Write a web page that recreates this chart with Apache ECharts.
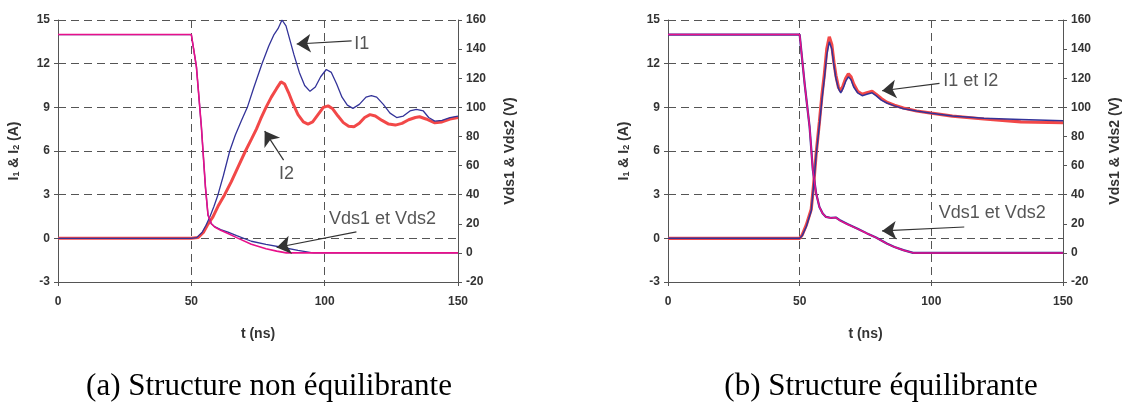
<!DOCTYPE html>
<html>
<head>
<meta charset="utf-8">
<script src="https://cdn.jsdelivr.net/npm/echarts@6/dist/echarts.min.js"></script>
<style>html,body{margin:0;padding:0;background:#fff}#c{width:1123px;height:412px}</style>
</head>
<body>
<div id="c"></div>
<script>
// ---- Data (t in ns, currents in A, voltages in V) ----
var xTicks = [0, 50, 100, 150];
var iTicks = [-3, 0, 3, 6, 9, 12, 15];
var vTicks = [-20, 0, 20, 40, 60, 80, 100, 120, 140, 160];

// (a) Structure non équilibrante
var a_I1 = [[0,0],[50,0],[52,0.05],[54,0.4],[55.5,0.9],[57,1.5],[58.5,2.2],[60,3.0],[62,4.3],[64.4,6.0],[66.5,7.1],[68.8,8.1],[71,9.0],[73.5,10.4],[76.5,12.0],[79,13.2],[81,14.0],[82.5,14.4],[84,15.0],[85.5,14.6],[87,13.6],[88.5,12.6],[90.5,11.4],[92.5,10.5],[94.5,10.1],[96.5,10.4],[98.5,11.1],[100.6,11.6],[102.5,11.4],[104.5,10.6],[106.5,9.7],[108.5,9.15],[110.6,8.93],[113,9.2],[115.5,9.7],[117.5,9.8],[119.5,9.7],[122,9.2],[124.5,8.6],[127,8.3],[129.5,8.4],[132,8.75],[134.4,8.86],[137,8.75],[139,8.3],[141.3,8.05],[144,8.1],[147,8.3],[150,8.4]];
var a_I2 = [[0,0],[50,0],[52.5,0.05],[54.5,0.4],[56,0.9],[58.1,1.47],[60,2.2],[62.5,3.0],[65,3.9],[67.5,4.9],[70.3,6.0],[72.5,6.8],[74.4,7.5],[76,8.2],[78,9.0],[80,9.7],[82,10.3],[83.6,10.75],[85,10.6],[86.5,10.0],[88,9.3],[90,8.5],[92,8.0],[93.75,7.85],[95.5,8.0],[97.5,8.5],[99.5,9.0],[101.3,9.1],[103,8.9],[105,8.4],[107,7.95],[109,7.7],[111,7.66],[113,7.9],[115,8.3],[117,8.5],[119,8.4],[121.5,8.1],[124,7.85],[126.5,7.78],[129,7.9],[131.5,8.15],[134,8.3],[135.6,8.35],[138,8.2],[141.3,7.94],[144,8.0],[147,8.2],[150,8.3]];
var a_Vds1 = [[0,150],[50,150],[51.9,128],[53.75,87],[55.3,45],[56.25,26],[57.5,20],[58.75,18],[61,16],[63.75,14.2],[67,11.8],[72.5,8],[78,5.8],[84.4,3.7],[90,1.8],[95,0.2],[96,0],[150,0]];
var a_Vds2 = [[0,150],[50,150],[51.9,128],[53.75,87],[55.3,45],[56.25,26],[57.5,20],[58.75,17.8],[61,15.5],[63.75,13.3],[67,10.5],[72.5,5.9],[78,2.8],[82,1.2],[85.6,0],[150,0]];

// (b) Structure équilibrante
var b_I1 = [[0,0],[50,0],[51,0.2],[52.5,0.8],[54.4,1.9],[55.4,3.8],[56.25,5.7],[57.5,7.8],[58.5,9.6],[59.4,11.0],[60.3,12.6],[61.25,13.5],[62.2,13.0],[63,11.9],[63.75,11.0],[64.7,10.3],[65.6,10.0],[66.5,10.3],[67.5,10.8],[68.5,11.1],[69.5,10.9],[70.5,10.4],[72,10.0],[73.75,9.8],[75.5,9.9],[77.5,10.0],[79,9.8],[81,9.5],[83.1,9.3],[86,9.1],[89.4,8.9],[94.4,8.75],[100,8.6],[108,8.4],[120,8.25],[134,8.17],[150,8.08]];
var b_I2 = [[0,0],[50,0],[51,0.25],[52.5,0.9],[54.4,2.0],[55.4,3.9],[56.25,5.8],[57.5,8.0],[58.5,9.9],[59.4,11.3],[60.3,13.0],[61.25,13.85],[62.2,13.3],[63,12.1],[63.75,11.2],[64.7,10.4],[65.6,10.1],[66.5,10.5],[67.5,11.0],[68.5,11.3],[69.5,11.1],[70.5,10.6],[72,10.1],[73.75,9.9],[75.5,10.0],[77.5,10.1],[79,9.9],[81,9.6],[83.1,9.35],[86,9.15],[89.4,8.95],[94.4,8.75],[100,8.6],[108,8.4],[120,8.2],[134,8.0],[150,7.94]];
var b_Vds1 = [[0,150],[50,150],[51.9,116],[53.75,87],[55,57],[56.25,41],[57.5,31.6],[58.75,27],[60,24.7],[62,24],[63.75,24.3],[65.5,22.2],[68.1,19.8],[72,16.6],[75.6,13.4],[79,10.6],[83.1,6.5],[86,4.1],[89.4,1.9],[93.1,0],[150,0]];
var b_Vds2 = [[0,150],[50,150],[51.9,116],[53.75,87],[55,57],[56.25,41],[57.5,31.6],[58.75,27],[60,24.7],[62,24],[63.75,24.3],[65.5,22],[68.1,19.7],[72,16.5],[75.6,13.3],[79,10.5],[83.1,6.4],[86,4],[89.4,1.8],[93.1,0],[150,0]];

// Annotations (t, I) : label positions and arrows [tail, tip]
var a_labels = [[113.9, 13.38, 'I1'], [85.7, 4.41, 'I2'], [121.7, 1.31, 'Vds1 et Vds2']];
var a_arrows = [[[110.1, 13.56], [89.5, 13.35]], [[84.6, 5.37], [77.5, 7.37]], [[111.9, 0.44], [82, -0.63]]];
var b_labels = [[115, 10.8, 'I1 et I2'], [123.1, 1.73, 'Vds1 et Vds2']];
var b_arrows = [[[103.1, 10.64], [81.3, 10.14]], [[112.5, 0.78], [81.3, 0.51]]];
var captions = ['(a) Structure non équilibrante', '(b) Structure équilibrante'];

// ---- Styling ----
var FONT = 'Liberation Sans, Arial, sans-serif';
var NAVY = '#333399', RED = '#f24848', MAG = '#e8108a';
var gridLine = {show: true, lineStyle: {color: '#555', type: [8, 5], width: 1}};
var axisLn = {show: true, onZero: false, lineStyle: {color: '#555', width: 1}};
var tickLbl = {fontFamily: FONT, fontWeight: 'bold', fontSize: 12, color: '#333'};

function xAx(g) {
  return {type: 'value', gridIndex: g, min: xTicks[0], max: xTicks[xTicks.length - 1], interval: xTicks[1] - xTicks[0],
    axisLine: axisLn, axisTick: {show: true, length: 4, lineStyle: {color: '#555'}}, splitLine: gridLine,
    axisLabel: Object.assign({margin: 14}, tickLbl),
    name: 't (ns)', nameLocation: 'middle', nameGap: 45,
    nameTextStyle: {fontFamily: FONT, fontWeight: 'bold', fontSize: 14, color: '#333'}};
}
function yIAx(g) {
  return {type: 'value', gridIndex: g, position: 'left', min: iTicks[0], max: iTicks[iTicks.length - 1], interval: iTicks[1] - iTicks[0],
    axisLine: axisLn, axisTick: {show: true, length: 4, lineStyle: {color: '#555'}}, splitLine: gridLine,
    axisLabel: Object.assign({margin: 8}, tickLbl),
    name: '{b|I}{s|1}{b| & I}{s|2}{b| (A)}', nameLocation: 'middle', nameGap: 37, nameRotate: 90,
    nameTextStyle: {rich: {
      b: {fontFamily: FONT, fontWeight: 'bold', fontSize: 14, color: '#333', lineHeight: 18, verticalAlign: 'bottom'},
      s: {fontFamily: FONT, fontWeight: 'bold', fontSize: 9, color: '#333', lineHeight: 9, verticalAlign: 'bottom'}}}};
}
function yVAx(g) {
  return {type: 'value', gridIndex: g, position: 'right', min: vTicks[0], max: vTicks[vTicks.length - 1], interval: vTicks[1] - vTicks[0],
    axisLine: axisLn, axisTick: {show: true, length: 4, lineStyle: {color: '#555'}}, splitLine: {show: false},
    axisLabel: Object.assign({margin: 8}, tickLbl),
    name: 'Vds1 & Vds2 (V)', nameLocation: 'middle', nameGap: 45, nameRotate: 90,
    nameTextStyle: {fontFamily: FONT, fontWeight: 'bold', fontSize: 14, color: '#333'}};
}
function line(data, g, yi, color, w, z) {
  return {type: 'line', data: data, xAxisIndex: g, yAxisIndex: yi, showSymbol: false, symbol: 'none', z: z,
    lineStyle: {color: color, width: w}, itemStyle: {color: color}, silent: true, animation: false};
}
function annot(labels, arrows, g, yi) {
  return {type: 'scatter', xAxisIndex: g, yAxisIndex: yi, symbolSize: 0, silent: true, animation: false, z: 10,
    data: labels.map(function (d) { return {value: d}; }),
    label: {show: true, position: 'inside', formatter: function (p) { return p.value[2]; },
      fontFamily: FONT, fontSize: 18, color: '#2a2a2a'},
    markLine: {silent: true, animation: false, symbol: ['none', 'arrow'], symbolSize: 14,
      itemStyle: {color: '#333'},
      lineStyle: {color: '#333', width: 1.2, type: 'solid'}, label: {show: false},
      data: arrows.map(function (a) { return [{coord: a[0]}, {coord: a[1]}]; })}};
}

var chart = echarts.init(document.getElementById('c'), null, {renderer: 'canvas'});
chart.setOption({
  backgroundColor: '#fff',
  animation: false,
  title: [
    {text: captions[0], left: 264, top: 366, textAlign: 'center', textStyle: {fontFamily: 'Liberation Serif, Times New Roman, serif', fontWeight: 'normal', fontSize: 31, color: '#000'}},
    {text: captions[1], left: 876, top: 366, textAlign: 'center', textStyle: {fontFamily: 'Liberation Serif, Times New Roman, serif', fontWeight: 'normal', fontSize: 31, color: '#000'}}
  ],
  grid: [
    {left: 58, top: 20, width: 400, height: 262},
    {left: 668, top: 20, width: 400, height: 262}
  ],
  xAxis: [xAx(0), xAx(1)],
  yAxis: [yIAx(0), yVAx(0), yIAx(1), yVAx(1)],
  series: [
    line(a_I2, 0, 0, RED, 3, 2),
    line(a_I1, 0, 0, NAVY, 1.3, 3),
    line(a_Vds1, 0, 1, NAVY, 1.3, 3),
    line(a_Vds2, 0, 1, MAG, 1.6, 4),
    line(b_I2, 1, 2, RED, 3.2, 2),
    line(b_I1, 1, 2, NAVY, 1.5, 3),
    line(b_Vds1, 1, 3, NAVY, 2.2, 3),
    line(b_Vds2, 1, 3, MAG, 1.5, 4),
    annot(a_labels, a_arrows, 0, 0),
    annot(b_labels, b_arrows, 1, 2)
  ]
});
</script>
</body>
</html>
